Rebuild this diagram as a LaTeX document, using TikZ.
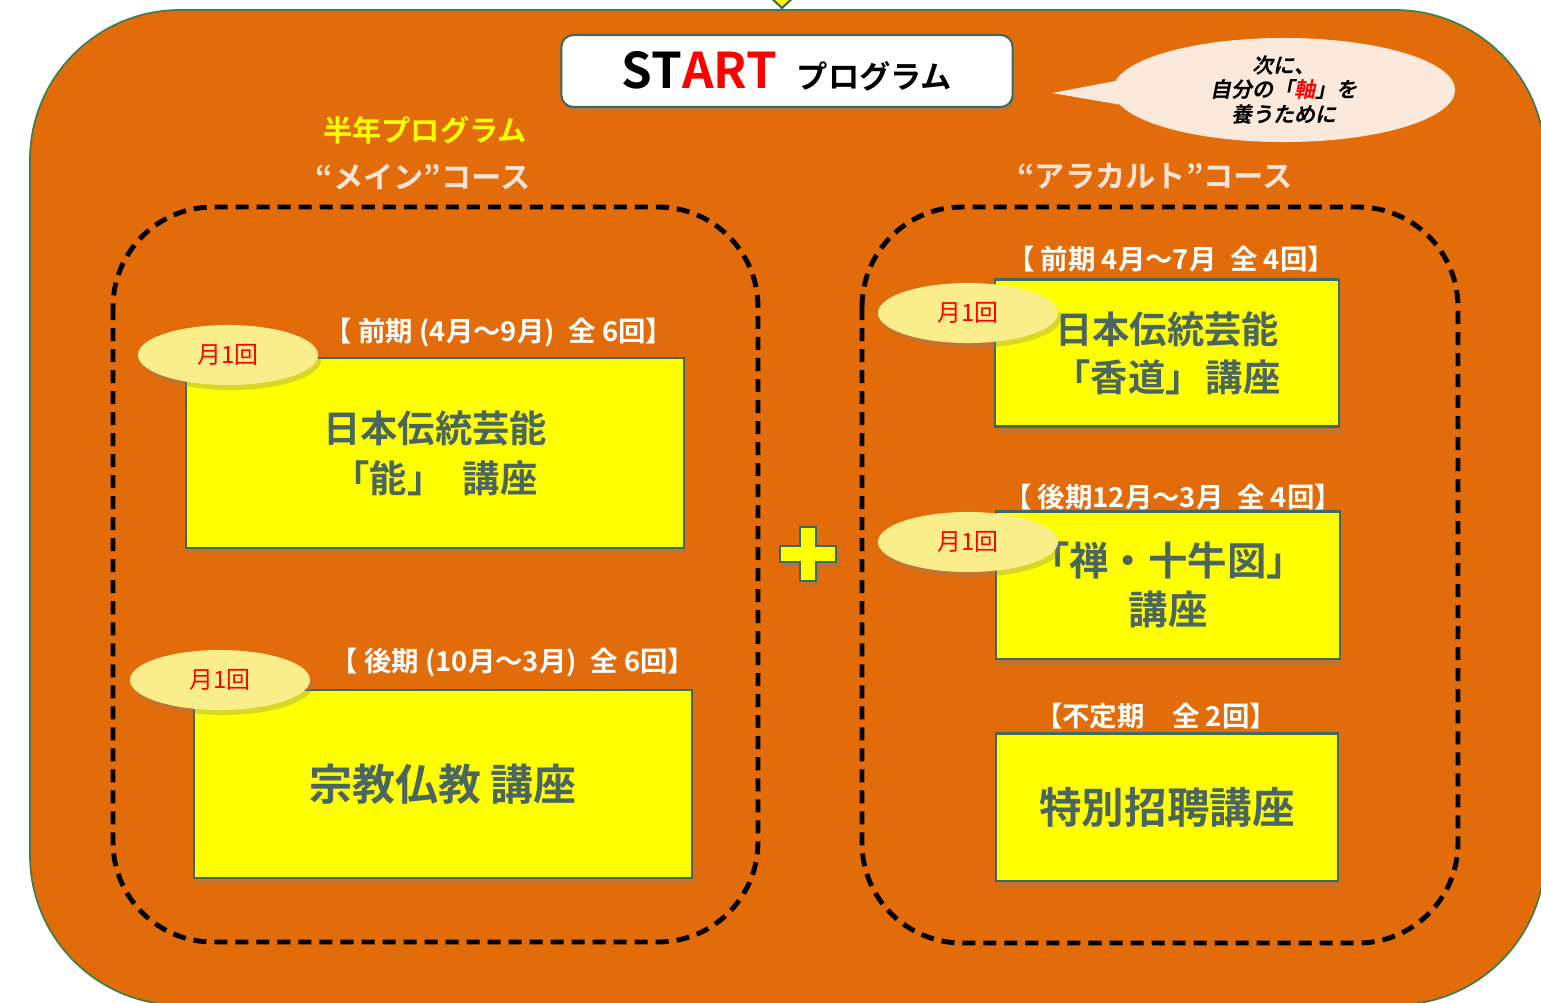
\documentclass[tikz,border=0pt]{standalone}
\usepackage{fontspec}
\setmainfont{Noto Sans CJK JP}[BoldFont={Noto Sans CJK JP Bold},
  ItalicFont={Noto Sans CJK JP}, ItalicFeatures={FakeSlant=0.2},
  BoldItalicFont={Noto Sans CJK JP Bold}, BoldItalicFeatures={FakeSlant=0.2}]
\usetikzlibrary{positioning, shapes.geometric, shadows}

\definecolor{frameorange}{RGB}{227,108,10}
\definecolor{frameline}{RGB}{65,125,75}
\definecolor{boxyellow}{RGB}{255,255,0}
\definecolor{boxline}{RGB}{64,104,96}
\definecolor{boxtext}{RGB}{74,102,95}
\definecolor{monthfill}{RGB}{250,238,140}
\definecolor{peach}{RGB}{251,228,213}
\definecolor{bubblefill}{RGB}{251,233,219}

\tikzset{
  frame/.style={fill=frameorange, draw=frameline, line width=0.5pt, rounded corners=1.5cm},
  course/.style={draw=black, line width=1.4pt, dash pattern=on 0.13cm off 0.08cm, rounded corners=1cm},
  lecture/.style={draw=boxline, fill=boxyellow, line width=0.6pt, text=boxtext, align=center,
    font=\bfseries, drop shadow={shadow xshift=0.02cm, shadow yshift=-0.06cm, opacity=0.3}},
  monthly/.style={ellipse, fill=monthfill, text=red, minimum width=1.8cm, minimum height=0.6cm,
    inner sep=0pt, font=\fontsize{6.8pt}{7pt}\selectfont,
    drop shadow={shadow xshift=0.03cm, shadow yshift=-0.05cm, opacity=0.3}},
  period/.style={text=white, font=\fontsize{7.8pt}{8pt}\selectfont\bfseries, inner sep=0pt},
  coursetitle/.style={text=peach, font=\fontsize{8.6pt}{9pt}\selectfont\bfseries, inner sep=0pt},
  startbox/.style={draw=boxline, fill=white, line width=0.6pt, rounded corners=0.12cm,
    minimum width=4.51cm, minimum height=0.72cm, inner sep=0pt, font=\bfseries,
    drop shadow={shadow xshift=0.02cm, shadow yshift=-0.04cm, opacity=0.3}},
  bubble/.style={ellipse, fill=bubblefill, minimum width=3.42cm, minimum height=1.04cm, inner sep=0pt,
    align=center, font=\fontsize{6pt}{7.1pt}\selectfont\bfseries\itshape},
  tip/.style={fill=boxyellow, draw=boxline, line width=0.6pt},
  plus/.style={fill=boxyellow, draw=boxline, line width=0.7pt,
    drop shadow={shadow xshift=0.03cm, shadow yshift=-0.05cm, opacity=0.35}}
}

\begin{document}
\begin{tikzpicture}[x=0.01cm, y=-0.01cm]
  \useasboundingbox (0,0) rectangle (1541,1002);

  % background
  \filldraw[tip] (767,-6) -- (797,-6) -- (782,8) -- cycle;
  \draw[frame] (30,10) rectangle (1545,1005);

  % title
  \node[startbox] (start) at (787,71)
    {\fontsize{14pt}{14pt}\selectfont ST\textcolor{red}{ART}\hspace{0.4em}\fontsize{8.9pt}{9pt}\selectfont プログラム};

  \node[bubble] (aim) at (1284,90) {次に、\\自分の「\textcolor{red}{軸}」を\\養うために};
  \coordinate (aimtip) at (1052,93);
  \fill[bubblefill] (aimtip) -- (aim.177) -- (aim.185) -- cycle;

  % courses
  \node[text=boxyellow, font=\fontsize{8.3pt}{9pt}\selectfont\bfseries, inner sep=0pt] (halfyear) at (425,130) {半年プログラム};
  \node[coursetitle] (maintitle) at (423,177) {“メイン”コース};
  \node[coursetitle] (alacarte) at (1155,176) {“アラカルト”コース};

  \draw[course] (113,207) rectangle (758,942);
  \draw[course] (862,207) rectangle (1458,943);

  \filldraw[plus] (800,527) -- (816,527) -- (816,546) -- (836,546) -- (836,562) -- (816,562)
    -- (816,581) -- (800,581) -- (800,562) -- (780,562) -- (780,546) -- (800,546) -- cycle;

  % main course
  \node[lecture, minimum width=4.98cm, minimum height=1.9cm, font=\fontsize{10.6pt}{14.2pt}\selectfont\bfseries] (noh) at (435,453)
    {日本伝統芸能\\「能」\hspace{0.5em}講座};
  \node[period] (nohterm) at (499,333) {【 前期 (4月～9月)\enspace 全 6回】};
  \node[monthly] (nohmonth) at (228,355) {月1回};

  \node[lecture, minimum width=4.98cm, minimum height=1.88cm, font=\fontsize{12.2pt}{14pt}\selectfont\bfseries] (religion) at (443,784)
    {宗教仏教 講座};
  \node[period] (religionterm) at (513,663) {【 後期 (10月～3月)\enspace 全 6回】};
  \node[monthly] (religionmonth) at (220,680) {月1回};

  % a la carte course
  \node[lecture, minimum width=3.43cm, minimum height=1.47cm, font=\fontsize{10.6pt}{13.7pt}\selectfont\bfseries] (kodo) at (1167,353)
    {日本伝統芸能\\「香道」\hspace{0.08em}講座};
  \node[period] (kodoterm) at (1171,259) {【 前期 4月～7月\enspace 全 4回】};
  \node[monthly] (kodomonth) at (968,313) {月1回};

  \node[lecture, minimum width=3.43cm, minimum height=1.47cm, font=\fontsize{11.2pt}{14.2pt}\selectfont\bfseries] (zen) at (1168,585)
    {「禅・十牛図」\\講座};
  \node[period] (zenterm) at (1173,497) {【 後期12月～3月\enspace 全 4回】};
  \node[monthly] (zenmonth) at (968,542) {月1回};

  \node[lecture, minimum width=3.42cm, minimum height=1.47cm, font=\fontsize{12.1pt}{14pt}\selectfont\bfseries] (guest) at (1167,807)
    {特別招聘講座};
  \node[period] (guestterm) at (1156,716) {【不定期　全 2回】};
\end{tikzpicture}
\end{document}
